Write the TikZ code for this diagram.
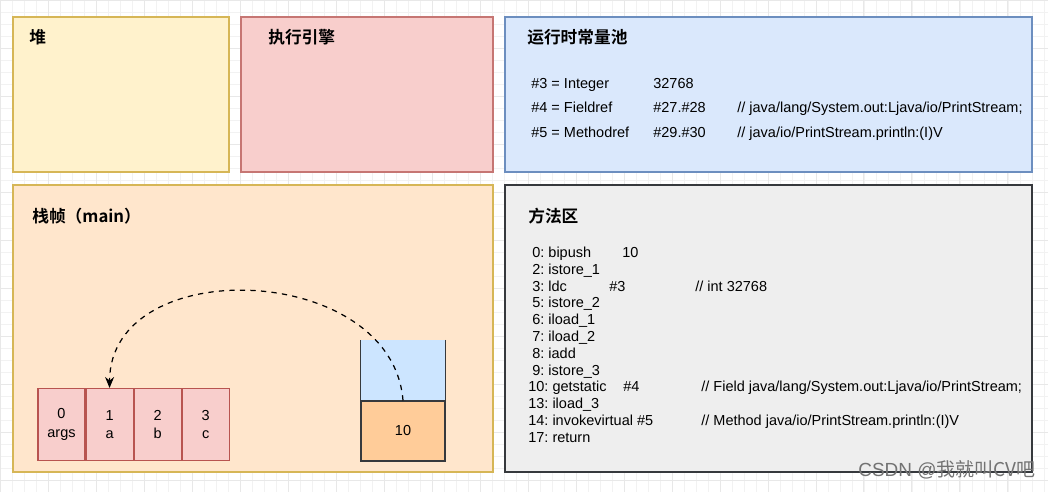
\documentclass[tikz,border=0pt]{standalone}
\usepackage{fontspec}
\setmainfont{Liberation Sans}
\newfontfamily\cjk{Noto Sans CJK SC}[BoldFont={Noto Sans CJK SC Bold}]
\usetikzlibrary{positioning,arrows.meta}
\frenchspacing

\definecolor{heapfill}{HTML}{FFF2CC}
\definecolor{heapline}{HTML}{D6B656}
\definecolor{redfill}{HTML}{F8CECC}
\definecolor{redline}{HTML}{B85450}
\definecolor{bluefill}{HTML}{DAE8FC}
\definecolor{blueline}{HTML}{6C8EBF}
\definecolor{framefill}{HTML}{FFE6CC}
\definecolor{frameline}{HTML}{D79B00}
\definecolor{greyfill}{HTML}{EEEEEE}
\definecolor{greyline}{HTML}{36393D}
\definecolor{stacktop}{HTML}{CCE5FF}
\definecolor{stackval}{HTML}{FFCC99}

\tikzset{
  area/.style={draw, rectangle, line width=0.8pt, inner sep=0pt},
  title/.style={anchor=west, inner sep=0pt, font=\cjk\bfseries\fontsize{9.5}{11}\selectfont},
  code/.style={anchor=base west, inner sep=0pt, font=\fontsize{8.25}{9.9}\selectfont},
  slot/.style={draw=redline, fill=redfill, rectangle, minimum width=0.94cm, minimum height=1.44cm,
    align=center, font=\fontsize{8.25}{10.2}\selectfont, line width=0.6pt}
}

\begin{document}
\begin{tikzpicture}[x=0.02cm, y=-0.02cm]
  \useasboundingbox (0,0) rectangle (1048,492);
  % background grid
  \begin{scope}[x=1cm, y=1cm]
    \draw[black!5, line width=0.3pt] (0,-9.84) grid[step=0.24cm] (20.96,0);
    \draw[black!9, line width=0.4pt] (0,-9.84) grid[step=0.96cm] (20.96,0);
  \end{scope}

  % areas
  \node[area, draw=heapline, fill=heapfill, minimum width=4.32cm, minimum height=3.1cm] (heap) at (121,94.5) {};
  \node[area, draw=redline!80, fill=redfill, minimum width=5.04cm, minimum height=3.1cm] (engine) at (367,94.5) {};
  \node[area, draw=blueline, fill=bluefill, minimum width=10.54cm, minimum height=3.1cm] (pool) at (768.5,94.5) {};
  \node[area, draw=heapline, fill=framefill, minimum width=9.6cm, minimum height=5.74cm] (frame) at (253,328.5) {};
  \node[area, draw=greyline, fill=greyfill, minimum width=10.54cm, minimum height=5.74cm] (method) at (768.5,328.5) {};

  % titles
  \node[title] (heapt) at (29,37) {堆};
  \node[title] (enginet) at (268,37) {执行引擎};
  \node[title] (poolt) at (527,37) {运行时常量池};
  \node[title] (framet) at (32,216) {栈帧（main）};
  \node[title] (methodt) at (528,216) {方法区};

  % constant pool
  \node[code] (c3) at (531,88.5) {\#3 = Integer};
  \node[code] (c3v) at (653,88.5) {32768};
  \node[code] (c4) at (531,112.5) {\#4 = Fieldref};
  \node[code] (c4v) at (653,112.5) {\#27.\#28};
  \node[code] (c4c) at (737,112.5) {// java/lang/System.out:Ljava/io/PrintStream;};
  \node[code] (c5) at (531,137.5) {\#5 = Methodref};
  \node[code] (c5v) at (653,137.5) {\#29.\#30};
  \node[code] (c5c) at (737,137.5) {// java/io/PrintStream.println:(I)V};

  % byte code
  \node[code] (b0) at (532,257.5) {0: bipush};
  \node[code] (b0v) at (622,257.5) {10};
  \node[code] (b2) at (532,274.3) {2: istore\_1};
  \node[code] (b3) at (532,291.1) {3: ldc};
  \node[code] (b3v) at (609,291.1) {\#3};
  \node[code] (b3c) at (695,291.1) {// int 32768};
  \node[code] (b5) at (532,307.9) {5: istore\_2};
  \node[code] (b6) at (532,324.7) {6: iload\_1};
  \node[code] (b7) at (532,341.5) {7: iload\_2};
  \node[code] (b8) at (532,358.3) {8: iadd};
  \node[code] (b9) at (532,375.1) {9: istore\_3};
  \node[code] (b10) at (528,391.9) {10: getstatic};
  \node[code] (b10v) at (623,391.9) {\#4};
  \node[code] (b10c) at (701,391.9) {// Field java/lang/System.out:Ljava/io/PrintStream;};
  \node[code] (b13) at (528,408.7) {13: iload\_3};
  \node[code] (b14) at (528,425.5) {14: invokevirtual \#5};
  \node[code] (b14c) at (701,425.5) {// Method java/io/PrintStream.println:(I)V};
  \node[code] (b17) at (528,442.3) {17: return};

  % local variables
  \node[slot] (slot0) at (61.5,424.5) {0\\[0.5pt]args};
  \node[slot, right=0pt of slot0] (slot1) {1\\[0.5pt]a};
  \node[slot, right=0pt of slot1] (slot2) {2\\[0.5pt]b};
  \node[slot, right=0pt of slot2] (slot3) {3\\[0.5pt]c};

  % operand stack
  \node[draw=greyline, fill=stackval, minimum width=1.68cm, minimum height=1.2cm, line width=0.6pt,
    font=\fontsize{8.25}{10}\selectfont] (val) at (403,431) {10};
  \node[fill=stacktop, minimum width=1.68cm, minimum height=1.2cm, above=0pt of val] (top) {};
  \draw[greyline, line width=0.6pt] (top.north west) -- (top.south west);
  \draw[greyline, line width=0.6pt] (top.north east) -- (top.south east);
  \draw[greyline, line width=0.6pt] (val.north west) -- (val.north east);

  % istore_1
  \draw[dashed, line width=0.7pt, -{Stealth[length=2.2mm, width=1.8mm]}]
    (val.north) .. controls (392,262) and (110,252) .. (slot1.north);

  % watermark
  \node[anchor=west, inner sep=0pt, text=black!55, font=\fontsize{10.8}{12}\selectfont] (mark) at (858,470) {CSDN @\cjk 我就叫CV吧};
\end{tikzpicture}
\end{document}
